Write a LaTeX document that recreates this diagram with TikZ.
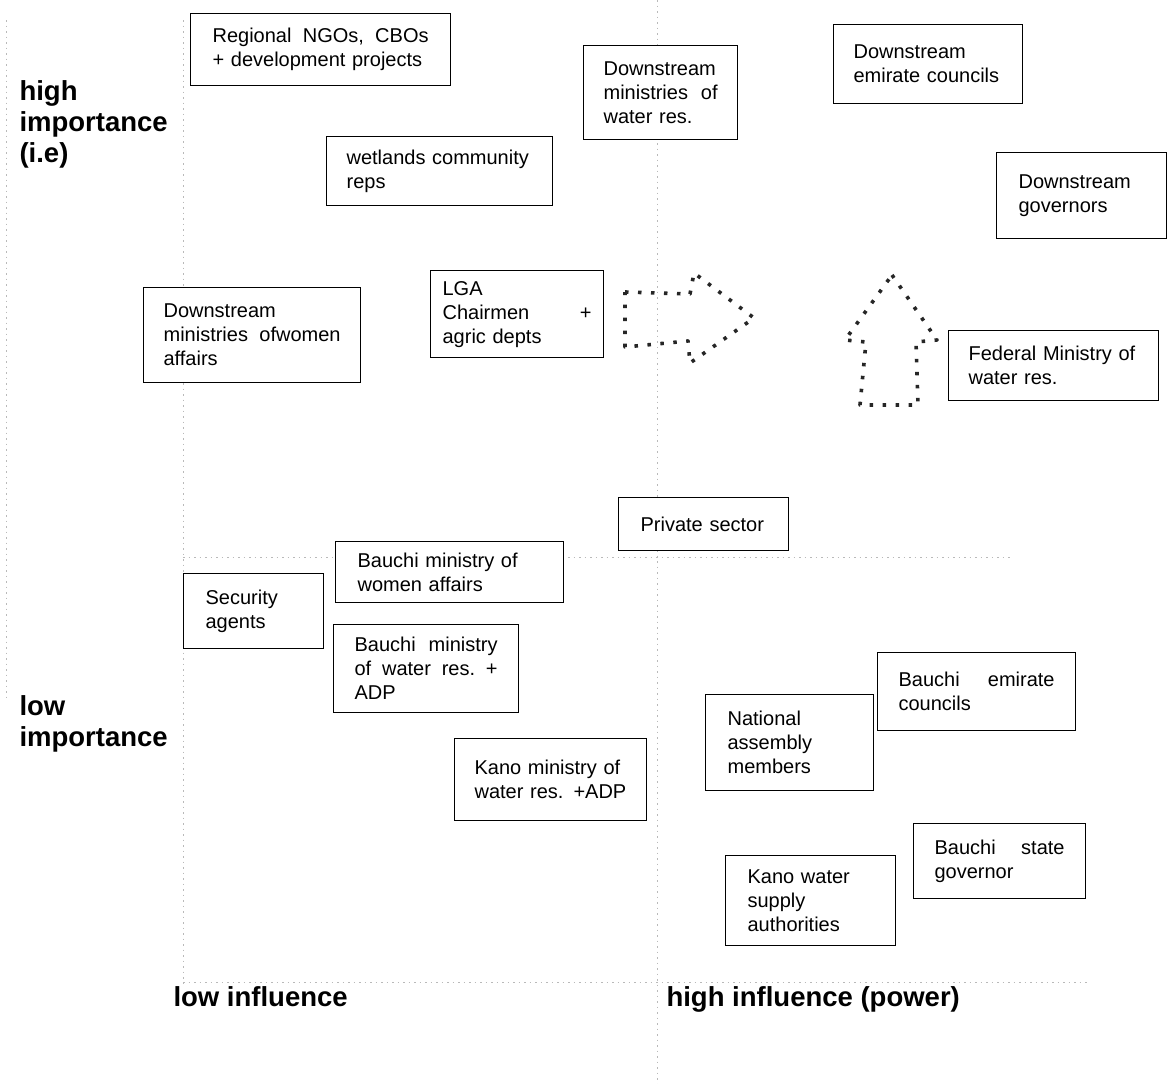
\documentclass[tikz,border=0pt]{standalone}
\usepackage{fontspec}
\setmainfont{Liberation Sans}
\usepackage{tikz}
\usetikzlibrary{positioning}
\tikzset{
  % Stakeholder box: corner placed, text justified by \hfill
  stk/.style={
    draw=black, line width=1.2pt, fill=white,
    anchor=north west, align=left,
    inner xsep=#1, inner ysep=0pt,
    font=\fontsize{20}{24}\selectfont
  },
  stk/.default=21pt,
  % Faint dotted guide of the matrix
  guide/.style={draw=gray!55, line width=0.9pt, dash pattern=on 1.5pt off 4pt},
  % Dotted block arrow
  dotarr/.style={draw=black!85, line width=3.6pt, dash pattern=on 3.5pt off 9.5pt, line join=round},
  % Axis label
  axlbl/.style={font=\bfseries\fontsize{27.5}{31}\selectfont, align=left}
}
\begin{document}
\begin{tikzpicture}[x=1pt, y=-1pt]
  \path[use as bounding box] (0,0) rectangle (1168,1084);

  % Guides
  \draw[guide] (6,20) -- (6,700);
  \draw[guide] (183,20) -- (183,985);
  \draw[guide] (657,0) -- (657,1084);
  \draw[guide] (183,557) -- (1010,557);
  \draw[guide] (183,982) -- (1090,982);

  % Dotted arrows
  \draw[dotarr] (625,292) -- (690,294) -- (694,273) -- (754,318)
    -- (690,363) -- (688,341) -- (625,347) -- cycle;
  \draw[dotarr] (892,275) -- (937,340) -- (916,342) -- (918,405)
    -- (860,405) -- (866,342) -- (845,340) -- cycle;

  % Upper half
  \node[stk=22pt, text width=216pt, minimum height=72pt] (ngo) at (190,13)
    {Regional\hfill NGOs,\hfill CBOs\\+ development projects};
  \node[stk=20pt, text width=114pt, minimum height=94pt] (dsmin) at (583,45)
    {Downstream\\ministries\hfill of\\water res.};
  \node[stk=20pt, text width=149pt, minimum height=79pt] (dsemir) at (833,24)
    {Downstream\\emirate councils};
  \node[stk=20pt, text width=186pt, minimum height=69pt] (wet) at (326,136)
    {wetlands community\\reps};
  \node[stk=22pt, text width=126pt, minimum height=86pt] (dsgov) at (996,152)
    {Downstream\\governors};
  \node[stk=12pt, text width=149pt, minimum height=87pt] (lga) at (430,270)
    {LGA\\Chairmen\hfill +\\agric depts};
  \node[stk=20pt, text width=177pt, minimum height=95pt] (dswomen) at (143,287)
    {Downstream\\ministries\hfill ofwomen\\affairs};
  \node[stk=20pt, text width=170pt, minimum height=70pt] (fedmin) at (948,330)
    {Federal Ministry of\\water res.};
  \node[stk=22pt, text width=126pt, minimum height=53pt] (priv) at (618,497)
    {Private sector};

  % Lower half
  \node[stk=22pt, text width=184pt, minimum height=61pt] (bwomen) at (335,541)
    {Bauchi ministry of\\women affairs};
  \node[stk=22pt, text width=96pt, minimum height=75pt] (secur) at (183,573)
    {Security\\agents};
  \node[stk=21pt, text width=143pt, minimum height=88pt] (bwater) at (333,624)
    {Bauchi\hfill ministry\\of\hfill water\hfill res.\hfill +\\ADP};
  \node[stk=21pt, text width=156pt, minimum height=78pt] (bemir) at (877,652)
    {Bauchi\hfill emirate\\councils};
  \node[stk=22pt, text width=124pt, minimum height=96pt] (natasm) at (705,694)
    {National\\assembly\\members};
  \node[stk=20pt, text width=152pt, minimum height=82pt] (kano) at (454,738)
    {Kano ministry of\\water res. +ADP};
  \node[stk=21pt, text width=130pt, minimum height=75pt] (bgov) at (913,823)
    {Bauchi\hfill state\\governor};
  \node[stk=22pt, text width=126pt, minimum height=90pt] (kwsa) at (725,855)
    {Kano water\\supply\\authorities};

  % Axis labels
  \node[axlbl, anchor=west] (hiimp) at (16,124) {high\\importance\\(i.e)};
  \node[axlbl, anchor=west] (loimp) at (16,724) {low\\importance};
  \node[axlbl, anchor=base west] (loinf) at (170,1006) {low influence};
  \node[axlbl, anchor=base west] (hiinf) at (663,1006) {high influence (power)};
\end{tikzpicture}
\end{document}
